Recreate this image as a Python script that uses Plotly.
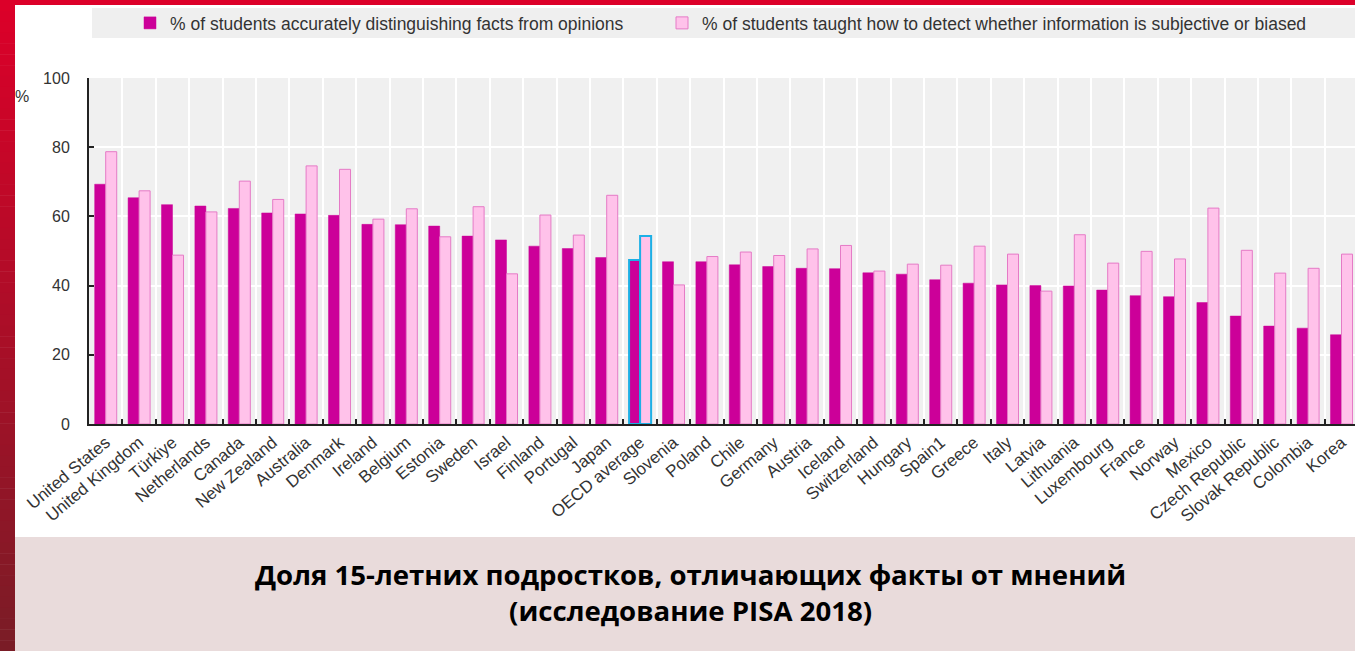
import plotly.graph_objects as go

countries = ["United States", "United Kingdom", "Türkiye", "Netherlands", "Canada", "New Zealand",
             "Australia", "Denmark", "Ireland", "Belgium", "Estonia", "Sweden", "Israel", "Finland",
             "Portugal", "Japan", "OECD average", "Slovenia", "Poland", "Chile", "Germany", "Austria",
             "Iceland", "Switzerland", "Hungary", "Spain1", "Greece", "Italy", "Latvia", "Lithuania",
             "Luxembourg", "France", "Norway", "Mexico", "Czech Republic", "Slovak Republic",
             "Colombia", "Korea"]

distinguishing = [69.3, 65.4, 63.4, 63.0, 62.3, 61.0, 60.7, 60.3, 57.7, 57.6, 57.2, 54.3, 53.2, 51.4,
                  50.7, 48.1, 47.4, 46.9, 46.9, 46.0, 45.5, 45.0, 44.9, 43.7, 43.3, 41.7, 40.7, 40.2,
                  40.0, 39.9, 38.7, 37.1, 36.8, 35.1, 31.2, 28.3, 27.7, 25.8]

taught = [78.7, 67.4, 48.8, 61.3, 70.2, 64.9, 74.6, 73.6, 59.2, 62.2, 54.1, 62.8, 43.4, 60.4,
          54.6, 66.1, 54.3, 40.2, 48.4, 49.7, 48.7, 50.6, 51.6, 44.2, 46.2, 45.9, 51.4, 49.1,
          38.4, 54.7, 46.5, 49.9, 47.7, 62.4, 50.2, 43.6, 45.0, 49.1]

series_names = ["% of students accurately distinguishing facts from opinions",
                "% of students taught how to detect whether information is subjective or biased"]

y_ticks = [0, 20, 40, 60, 80, 100]
caption_lines = ["Доля 15-летних подростков, отличающих факты от мнений",
                 "(исследование PISA 2018)"]
highlight = "OECD average"

W, H = 1355, 651
L, R, T, B = 89, 1355, 78, 424


def xp(px):
    return (px - L) / (R - L)


def yp(py):
    return (B - py) / (B - T)


DARK = "#cc0099"
LIGHT = "#ffc2ea"
LIGHT_LINE = "#e57ac6"
CYAN = "#1cb0e6"

dark_lines = [CYAN if c == highlight else DARK for c in countries]
light_lines = [CYAN if c == highlight else LIGHT_LINE for c in countries]
dark_lw = [2 if c == highlight else 0.5 for c in countries]
light_lw = [2 if c == highlight else 1 for c in countries]

fig = go.Figure()
fig.add_trace(go.Bar(x=countries, y=distinguishing, name=series_names[0],
                     marker=dict(color=DARK, line=dict(color=dark_lines, width=dark_lw)),
                     legend="legend"))
fig.add_trace(go.Bar(x=countries, y=taught, name=series_names[1],
                     marker=dict(color=LIGHT, line=dict(color=light_lines, width=light_lw)),
                     legend="legend2"))

shapes = []
# left red gradient strip
steps = 60
c0 = (220, 0, 41)
c1 = (122, 28, 38)
for i in range(steps):
    t = i / (steps - 1)
    col = tuple(round(c0[k] + (c1[k] - c0[k]) * t) for k in range(3))
    y_top = i * H / steps
    y_bot = (i + 1) * H / steps + 0.5
    shapes.append(dict(type="rect", xref="paper", yref="paper", layer="below",
                       x0=xp(0), x1=xp(15), y0=yp(y_bot), y1=yp(y_top),
                       fillcolor="rgb(%d,%d,%d)" % col, line=dict(width=0)))
# top red strip
shapes.append(dict(type="rect", xref="paper", yref="paper", layer="below",
                   x0=xp(0), x1=xp(W), y0=yp(5), y1=yp(0),
                   fillcolor="#dc0029", line=dict(width=0)))
# legend background
shapes.append(dict(type="rect", xref="paper", yref="paper", layer="below",
                   x0=xp(92), x1=xp(W), y0=yp(38), y1=yp(8),
                   fillcolor="#efefef", line=dict(width=0)))
# caption band
shapes.append(dict(type="rect", xref="paper", yref="paper", layer="below",
                   x0=xp(15), x1=xp(W), y0=yp(H), y1=yp(537),
                   fillcolor="#e9dbdb", line=dict(width=0)))

annotations = [
    dict(text="%", xref="paper", yref="paper", x=xp(22), y=yp(97), showarrow=False,
         font=dict(family="Liberation Sans, Arial", size=16, color="#333333"),
         xanchor="center", yanchor="middle"),
    dict(text="<br>".join("<b>%s</b>" % s for s in caption_lines), xref="paper", yref="paper",
         x=xp(690), y=yp(592), showarrow=False, align="center",
         font=dict(family="Open Sans", size=27.6, color="#000000"),
         xanchor="center", yanchor="middle"),
]

legend_font = dict(family="Liberation Sans, Arial", size=17.5, color="#333333")

fig.update_layout(
    width=W, height=H,
    margin=dict(l=L, r=W - R, t=T, b=H - B, pad=0),
    paper_bgcolor="white",
    plot_bgcolor="#f0f0f0",
    barmode="group",
    bargap=0.34,
    bargroupgap=0,
    shapes=shapes,
    annotations=annotations,
    showlegend=True,
    legend=dict(orientation="h", x=xp(130), y=yp(23), xanchor="left", yanchor="middle",
                bgcolor="rgba(0,0,0,0)", font=legend_font, itemclick=False),
    legend2=dict(orientation="h", x=xp(662), y=yp(23), xanchor="left", yanchor="middle",
                 bgcolor="rgba(0,0,0,0)", font=legend_font, itemclick=False),
    xaxis=dict(range=[-0.5, -0.5 + (R - L) / 33.4], tickangle=-40, tickson="boundaries",
               ticks="inside", ticklen=5, tickcolor="#222222", tickwidth=2,
               showline=True, linecolor="#222222", linewidth=2,
               showgrid=True, gridcolor="white", gridwidth=2,
               tickfont=dict(family="Liberation Sans, Arial", size=17, color="#333333"),
               automargin=False, fixedrange=True),
    yaxis=dict(range=[0, 100], tickvals=y_ticks, ticks="inside", ticklen=5,
               tickcolor="#222222", tickwidth=2, ticklabelstandoff=14,
               showline=True, linecolor="#222222", linewidth=2,
               showgrid=True, gridcolor="white", gridwidth=2, zeroline=False,
               tickfont=dict(family="Liberation Sans, Arial", size=16, color="#333333"),
               automargin=False, fixedrange=True),
)

fig.write_html("out.html", config={"displayModeBar": False},
               post_script="document.body.style.margin='0';document.body.style.padding='0';"
                           "document.body.style.overflow='hidden';")
